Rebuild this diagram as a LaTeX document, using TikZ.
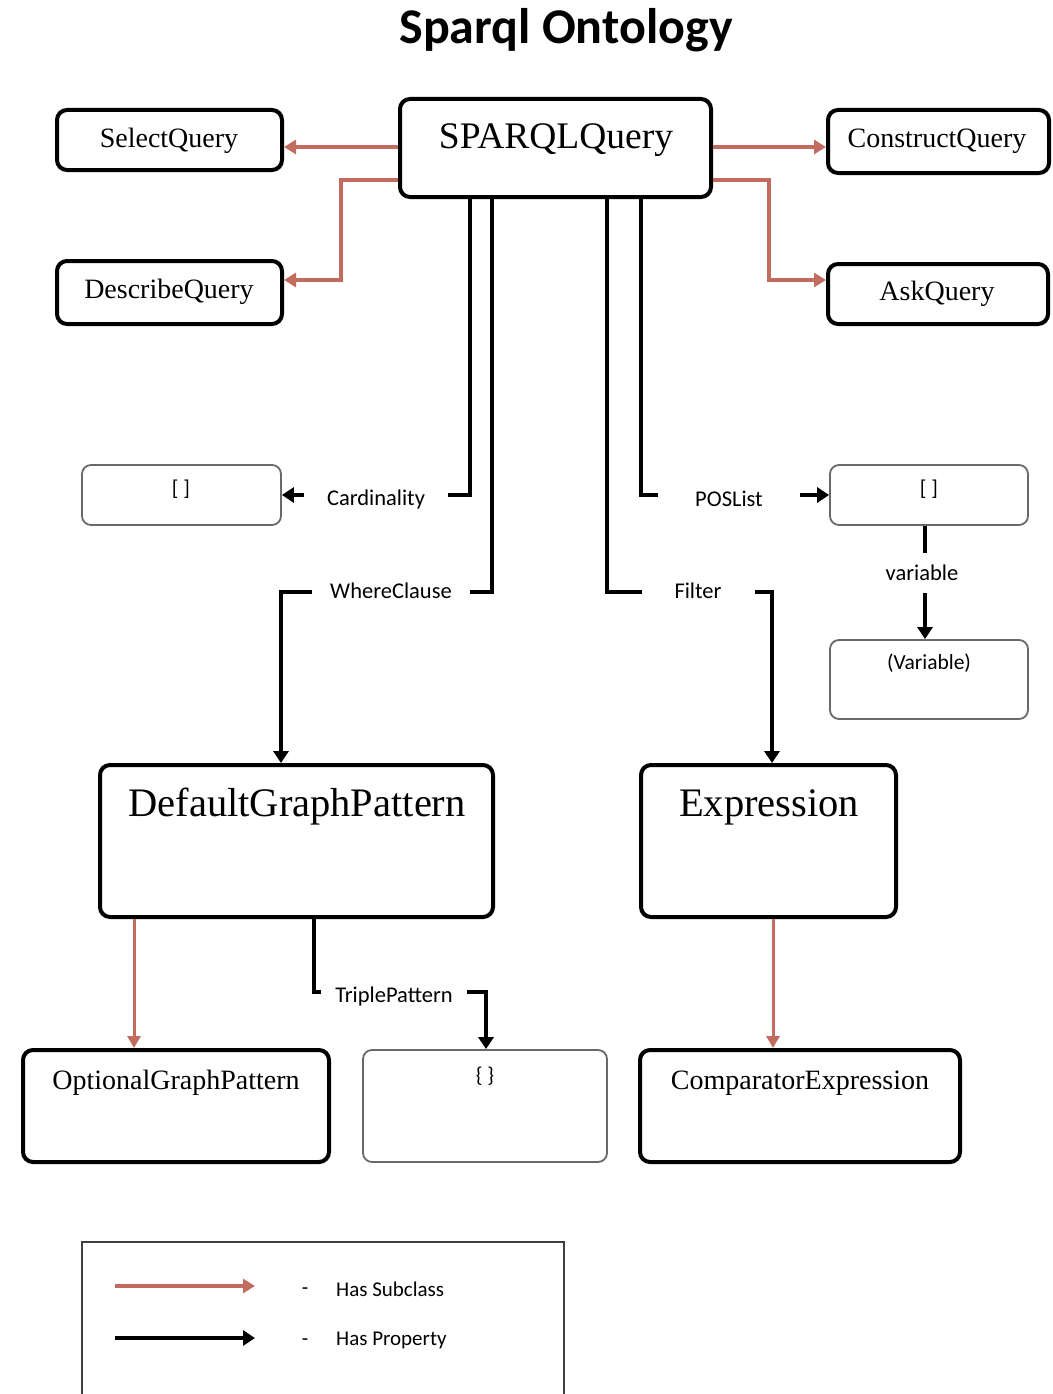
\documentclass[tikz,border=0pt]{standalone}
\usepackage{fontspec}
\setmainfont{Liberation Serif}
\newfontfamily\lblfont{Carlito}
\usetikzlibrary{arrows.meta}
\definecolor{subred}{RGB}{194,108,96}
\definecolor{valgray}{RGB}{105,105,105}
\begin{document}
\begin{tikzpicture}[x=1pt,y=-1pt,
  classbox/.style={draw=black, line width=4pt, rounded corners=10pt, inner sep=0pt, fill=white},
  valbox/.style={draw=valgray, line width=1.8pt, rounded corners=9pt, inner sep=0pt, fill=white},
  smallcls/.style={font=\fontsize{28}{32}\selectfont},
  bigcls/.style={font=\fontsize{40.5}{44}\selectfont},
  valtxt/.style={font=\lblfont\fontsize{21.5}{24}\selectfont},
  lbl/.style={font=\lblfont\fontsize{22.5}{26}\selectfont, fill=white, inner ysep=4pt},
  legtxt/.style={font=\lblfont\fontsize{21}{24}\selectfont},
  sub/.style={draw=subred, line width=4pt, -{Triangle[length=12pt,width=14pt]}},
  subthin/.style={draw=subred, line width=3pt, -{Triangle[length=12pt,width=13pt]}},
  prop/.style={draw=black, line width=4.5pt, -{Triangle[length=12pt,width=15pt]}},
]
\useasboundingbox (0,0) rectangle (1052,1394);

% title
\node[font=\lblfont\bfseries\fontsize{50}{54}\selectfont] (title) at (566,30) {Sparql Ontology};

% class boxes
\node[classbox, minimum width=311pt, minimum height=98pt] (sq) at (555.5,148) {};
\node[font=\fontsize{37.5}{41}\selectfont] (sqT) at (556,140) {SPARQLQuery};
\node[classbox, minimum width=225pt, minimum height=60pt] (sel) at (169.5,140) {};
\node[smallcls] (selT) at (169,141) {SelectQuery};
\node[classbox, minimum width=221pt, minimum height=63pt] (con) at (938.5,141.5) {};
\node[smallcls] (conT) at (937,141) {ConstructQuery};
\node[classbox, minimum width=225pt, minimum height=63pt] (des) at (169.5,292.5) {};
\node[smallcls] (desT) at (169,292) {DescribeQuery};
\node[classbox, minimum width=220pt, minimum height=60pt] (ask) at (938,294) {};
\node[smallcls] (askT) at (937,294) {AskQuery};

\node[classbox, minimum width=393pt, minimum height=152pt] (dgp) at (296.5,841) {};
\node[bigcls] (dgpT) at (297,807) {DefaultGraphPattern};
\node[classbox, minimum width=255pt, minimum height=152pt] (expr) at (768.5,841) {};
\node[bigcls] (exprT) at (769,807) {Expression};

\node[classbox, minimum width=306pt, minimum height=112pt] (ogp) at (176,1106) {};
\node[smallcls] (ogpT) at (176,1083) {OptionalGraphPattern};
\node[classbox, minimum width=320pt, minimum height=112pt] (cmp) at (800,1106) {};
\node[smallcls] (cmpT) at (800,1083) {ComparatorExpression};

% value boxes
\node[valbox, minimum width=199pt, minimum height=60pt] (cardv) at (181.5,495) {};
\node[valtxt] (cardvT) at (181,489) {[ ]};
\node[valbox, minimum width=198pt, minimum height=60pt] (posv) at (929,495) {};
\node[valtxt] (posvT) at (929,489) {[ ]};
\node[valbox, minimum width=198pt, minimum height=79pt] (varv) at (929,679.5) {};
\node[valtxt] (varvT) at (929,663) {(Variable)};
\node[valbox, minimum width=244pt, minimum height=112pt] (trip) at (485,1106) {};
\node[valtxt] (tripT) at (485,1076) {\{ \}};

% subclass connectors
\coordinate (rowA) at (0,147);
\coordinate (bendL1) at (341,180);
\coordinate (bendL2) at (341,280);
\coordinate (bendR1) at (769,180);
\coordinate (bendR2) at (769,280);
\draw[sub] (sq.west |- rowA) -- (sel.east |- rowA);
\draw[sub] (sq.east |- rowA) -- (con.west |- rowA);
\draw[sub] (sq.west |- bendL1) -- (bendL1) -- (bendL2) -- (des.east |- bendL2);
\draw[sub] (sq.east |- bendR1) -- (bendR1) -- (bendR2) -- (ask.west |- bendR2);
\coordinate (ogpX) at (134,0);
\coordinate (cmpX) at (773,0);
\draw[subthin] (dgp.south -| ogpX) -- (ogp.north -| ogpX);
\draw[subthin] (expr.south -| cmpX) -- (cmp.north -| cmpX);

% property connectors
\coordinate (cardX) at (470,0);
\draw[prop] (sq.south -| cardX) |- (cardv.east);
\node[lbl, inner xsep=23pt] (cardL) at (376,499) {Cardinality};

\coordinate (wc1) at (492,592);
\coordinate (wc2) at (281,592);
\draw[prop] (sq.south -| wc1) -- (wc1) -- (wc2) -- (dgp.north -| wc2);
\node[lbl, inner xsep=18pt] (wcL) at (391,591) {WhereClause};

\coordinate (posX) at (641,0);
\draw[prop] (sq.south -| posX) |- (posv.west);
\node[lbl, inner xsep=37pt] (posL) at (729,499) {POSList};

\coordinate (ft1) at (607,592);
\coordinate (ft2) at (772,592);
\draw[prop] (sq.south -| ft1) -- (ft1) -- (ft2) -- (expr.north -| ft2);
\node[lbl, inner xsep=33pt] (ftL) at (698,591) {Filter};

\coordinate (varX) at (925,0);
\draw[prop] (posv.south -| varX) -- (varv.north -| varX);
\node[lbl, inner xsep=6pt, inner ysep=12pt] (varL) at (922,573) {variable};

\coordinate (tp1) at (314,992);
\coordinate (tp2) at (486,992);
\draw[prop, line width=4pt] (dgp.south -| tp1) -- (tp1) -- (tp2) -- (trip.north -| tp2);
\node[lbl, inner xsep=14pt] (tpL) at (394,996) {TriplePattern};

% legend
\coordinate (lgTL) at (82,1242);
\coordinate (lgTR) at (564,1242);
\draw[valgray!60!black, line width=1.8pt] (lgTL |- 0,1394) -- (lgTL) -- (lgTR) -- (lgTR |- 0,1394);
\coordinate (lgA0) at (115,1286);
\coordinate (lgA1) at (255,1286);
\coordinate (lgB0) at (115,1338);
\coordinate (lgB1) at (255,1338);
\draw[sub] (lgA0) -- (lgA1);
\draw[prop] (lgB0) -- (lgB1);
\node[legtxt] (lgDashA) at (305,1291) {-};
\node[legtxt, anchor=west, inner sep=0pt] (lgTxtA) at (336,1289) {Has Subclass};
\node[legtxt] (lgDashB) at (305,1342) {-};
\node[legtxt, anchor=west, inner sep=0pt] (lgTxtB) at (336,1340) {Has Property};
\end{tikzpicture}
\end{document}
